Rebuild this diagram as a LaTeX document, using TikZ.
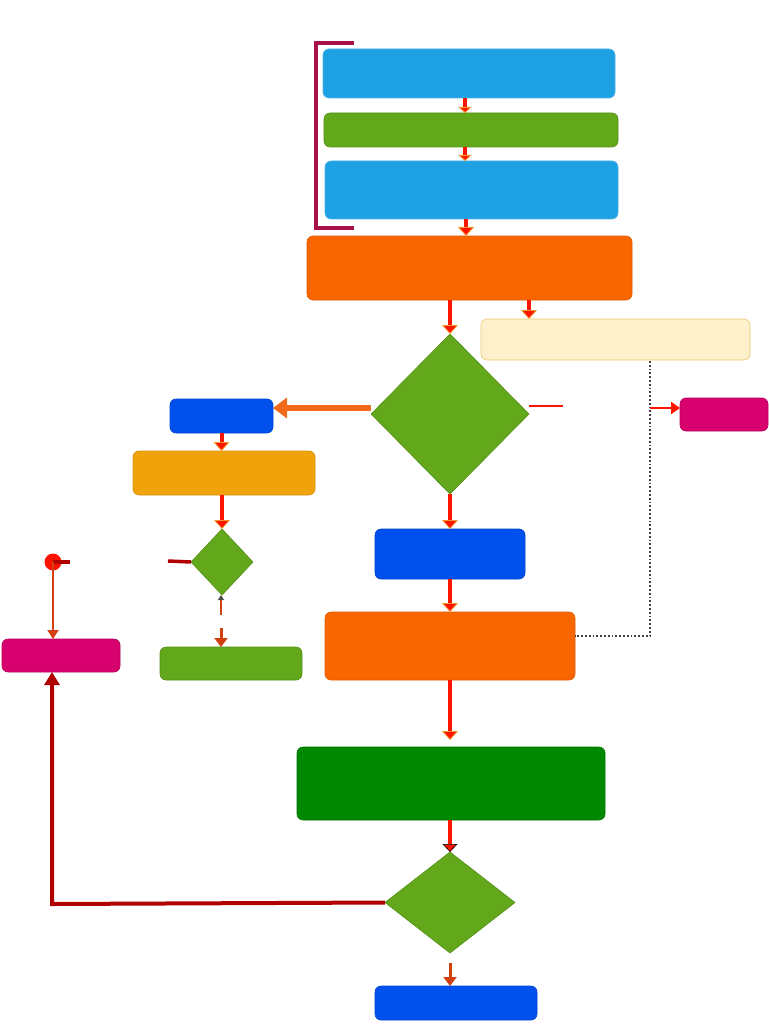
\documentclass[tikz,border=0pt]{standalone}
\usetikzlibrary{shapes.geometric,arrows.meta}
\definecolor{cblue}{RGB}{30,161,226}
\definecolor{cgreen}{RGB}{98,168,26}
\definecolor{corange}{RGB}{249,102,0}
\definecolor{ccream}{RGB}{255,240,204}
\definecolor{ccreamb}{RGB}{232,200,112}
\definecolor{croyal}{RGB}{0,80,238}
\definecolor{camber}{RGB}{240,162,10}
\definecolor{cmag}{RGB}{216,0,110}
\definecolor{cdgreen}{RGB}{0,136,0}
\definecolor{cbrack}{RGB}{168,16,74}
\definecolor{carrow}{RGB}{255,20,0}
\definecolor{ctipb}{RGB}{245,150,40}
\definecolor{cbrown}{RGB}{208,64,16}
\definecolor{cdred}{RGB}{176,0,0}
\definecolor{corarr}{RGB}{242,106,27}
\tikzset{
  box/.style={rectangle, rounded corners=6pt, inner sep=0pt, outer sep=0pt, line width=0.6pt},
  dia/.style={diamond, inner sep=0pt, outer sep=0pt, line width=0.6pt},
  flow/.style={draw=carrow, line width=4pt, -{Triangle[length=9pt,width=16pt,color=ctipb,fill=carrow,line width=0.8pt]}},
  smallflow/.style={draw=carrow, line width=3.5pt, -{Triangle[length=6pt,width=13pt,color=ctipb,fill=carrow,line width=0.8pt]}},
  brownflow/.style={draw=cbrown, line width=3pt, -{Triangle[length=9pt,width=13pt]}},
  thinbrown/.style={draw=cbrown, line width=2pt, -{Triangle[length=9pt,width=11pt]}},
}
\begin{document}
\begin{tikzpicture}[x=1pt,y=-1pt]
\useasboundingbox (0,0) rectangle (768,1024);
% bracket
\draw[cbrack, line width=3.5pt] (354,43) -- (316,43) -- (316,228) -- (354,228);
% nodes
\node[box, fill=cblue, draw=cblue!80!white, minimum width=292pt, minimum height=49pt] (A) at (469,73.5) {};
\node[box, fill=cgreen, draw=cgreen!85!black, minimum width=294pt, minimum height=34pt] (B) at (471,130) {};
\node[box, fill=cblue, draw=cblue!80!white, minimum width=293pt, minimum height=58pt] (C) at (471.5,190) {};
\node[box, fill=corange, draw=corange!90!black, minimum width=325pt, minimum height=64pt] (D) at (469.5,268) {};
\node[box, fill=ccream, draw=ccreamb, minimum width=269pt, minimum height=41pt] (E) at (615.5,339.5) {};
\node[dia, fill=cgreen, draw=cgreen!85!black, minimum width=158pt, minimum height=160pt] (F) at (450,414) {};
\node[box, fill=croyal, draw=croyal!85!black, minimum width=103pt, minimum height=34pt] (G) at (221.5,416) {};
\node[box, fill=camber, draw=camber!90!black, minimum width=182pt, minimum height=44pt] (H) at (224,473) {};
\node[dia, fill=cgreen, draw=cgreen!85!black, minimum width=62pt, minimum height=66pt] (I) at (222,562) {};
\node[box, fill=cgreen, draw=cgreen!85!black, minimum width=142pt, minimum height=33pt] (J) at (231,663.5) {};
\node[box, fill=cmag, draw=cmag!85!black, minimum width=118pt, minimum height=33pt] (L) at (61,655.5) {};
\node[box, fill=cmag, draw=cmag!85!black, minimum width=88pt, minimum height=33pt] (M) at (724,414.5) {};
\node[box, fill=croyal, draw=croyal!85!black, minimum width=150pt, minimum height=50pt] (N) at (450,554) {};
\node[box, fill=corange, draw=corange!90!black, minimum width=250pt, minimum height=68pt] (O) at (450,646) {};
\node[box, fill=cdgreen, draw=cdgreen!85!black, minimum width=308pt, minimum height=73pt] (P) at (451,783.5) {};
\node[dia, fill=cgreen, draw=cgreen!85!black, minimum width=130pt, minimum height=101pt] (Q) at (450,902.5) {};
\node[box, fill=croyal, draw=croyal!85!black, minimum width=162pt, minimum height=34pt] (R) at (456,1003) {};
\fill[red!85!orange] (53,562) circle (8.5pt);
\node[circle, inner sep=0pt, minimum size=0pt] (K) at (53,562) {};
% helper coordinates
\coordinate (ab) at (465,98);
\coordinate (bc) at (465,147);
\coordinate (cd) at (466,219);
\coordinate (de) at (529,300);
\coordinate (fg) at (371,408);
\coordinate (fr1) at (529,406);
\coordinate (fr2) at (563,406);
\coordinate (dt) at (650,361);
\coordinate (dto) at (650,636);
\coordinate (mm) at (650,408);
\coordinate (ks) at (70,562);
\coordinate (is) at (168,561);
\coordinate (ib) at (221,615);
\coordinate (ij) at (221,628);
\coordinate (op) at (450,740);
\coordinate (qr) at (450,963);
\coordinate (ql) at (52,904);
% connectors
\draw[smallflow] (ab) -- (ab |- B.north);
\draw[smallflow] (bc) -- (bc |- C.north);
\draw[flow] (cd) -- (cd |- D.north);
\draw[flow] (F.north |- D.south) -- (F.north);
\draw[flow] (de) -- (de |- E.north);
\draw[draw=corarr, line width=6pt, -{Triangle[length=14pt,width=20pt,fill=corarr]}] (fg) -- (G.east |- fg);
\draw[carrow, line width=1.2pt] (fr1) -- (fr2);
\draw[black!75, line width=1.8pt, dotted] (dt) -- (dto) -- (O.east |- dto);
\draw[draw=carrow, line width=2.5pt, -{Triangle[length=9pt,width=12pt]}] (mm) -- (M.west |- mm);
\draw[flow] (G.south) -- (G.south |- H.north);
\draw[flow] (H.south -| I.north) -- (I.north);
\draw[cdred, line width=3.5pt] (is) -- (I.west);
\draw[cdred, line width=3.5pt] (K) -- (ks);
\draw[draw=cbrown, line width=2pt, -{Triangle[length=5pt,width=6pt,fill=black!70,color=black!70]}] (ib) -- (ib |- I.south);
\draw[brownflow] (ij) -- (ij |- J.north);
\draw[thinbrown] (K) -- (K |- L.north);
\draw[flow] (N.north |- F.south) -- (N.north);
\draw[flow] (N.south) -- (N.south |- O.north);
\draw[flow] (O.south) -- (op);
\draw[draw=carrow, line width=4pt, -{Triangle[length=8pt,width=15pt,color=black,fill=carrow,line width=0.6pt]}] (P.south -| Q.north) -- (Q.north);
\draw[brownflow] (qr) -- (qr |- R.north);
\draw[cdred, line width=4pt, -{Triangle[length=13pt,width=15pt]}] (Q.west) -- (ql) -- (ql |- L.south);
\end{tikzpicture}
\end{document}
